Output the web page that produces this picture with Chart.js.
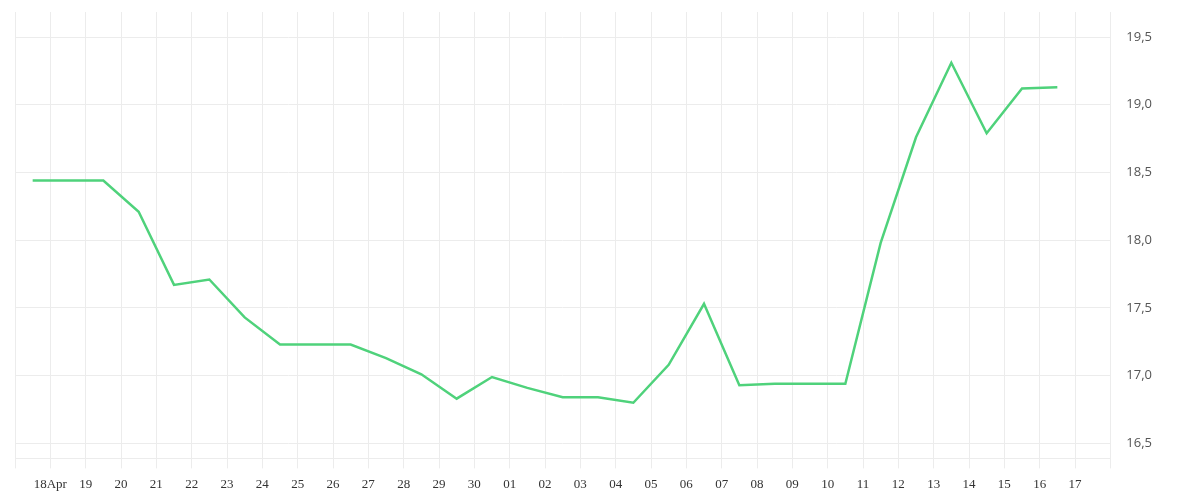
<html>
<head>
    <title>Price</title>
    <style>
        body {
            background-color: #ffffff;
            margin: 0;
            padding: 0;
        }
        .container {
            width: 1200px;
            height: 500px;
        }
    </style>
</head>
<body>
    <div class="container">
        <canvas id="priceChart"></canvas>
    </div>
    <script src="https://cdn.jsdelivr.net/npm/chart.js"></script>
    <script>
        // one value per day, 17 Apr .. 16 May
        const values = [18.44, 18.44, 18.44, 18.21, 17.67, 17.71, 17.43, 17.23, 17.23, 17.23,
                        17.13, 17.01, 16.83, 16.99, 16.91, 16.84, 16.84, 16.80, 17.08, 17.53,
                        16.93, 16.94, 16.94, 16.94, 17.98, 18.76, 19.31, 18.79, 19.12, 19.13];
        // x tick labels, one per day boundary (17 Apr .. 18 May)
        const xLabels = ['', '18Apr', '19', '20', '21', '22', '23', '24', '25', '26', '27', '28', '29', '30',
                         '01', '02', '03', '04', '05', '06', '07', '08', '09', '10', '11', '12', '13', '14',
                         '15', '16', '17', ''];
        const yTicks = [16.5, 17.0, 17.5, 18.0, 18.5, 19.0, 19.5];

        const gridColor = '#ececec';

        const ctx = document.getElementById('priceChart').getContext('2d');
        const priceChart = new Chart(ctx, {
            type: 'line',
            data: {
                datasets: [{
                    data: values.map((v, i) => ({ x: i + 0.5, y: v })),
                    borderColor: '#4fd27b',
                    borderWidth: 2.5,
                    pointRadius: 0,
                    tension: 0,
                    fill: false
                }]
            },
            options: {
                responsive: true,
                maintainAspectRatio: false,
                animation: false,
                layout: {
                    padding: { left: 15, right: 32, top: 12, bottom: 0 }
                },
                scales: {
                    x: {
                        type: 'linear',
                        min: 0,
                        max: xLabels.length - 1,
                        afterBuildTicks: (scale) => {
                            scale.ticks = xLabels.map((l, i) => ({ value: i }));
                        },
                        afterFit: (scale) => {
                            scale.paddingLeft = 0;
                            scale.paddingRight = 0;
                        },
                        ticks: {
                            autoSkip: false,
                            maxRotation: 0,
                            padding: 8,
                            color: '#333333',
                            font: { family: '"Liberation Serif", serif', size: 13 },
                            callback: (v) => xLabels[v]
                        },
                        grid: {
                            color: gridColor,
                            tickLength: 10
                        },
                        border: { color: gridColor }
                    },
                    y: {
                        position: 'right',
                        min: 16.389,
                        max: 19.685,
                        afterBuildTicks: (scale) => {
                            scale.ticks = yTicks.map(v => ({ value: v }));
                        },
                        afterFit: (scale) => {
                            scale.paddingTop = 0;
                            scale.paddingBottom = 0;
                        },
                        ticks: {
                            padding: 16,
                            color: '#555555',
                            font: { family: '"Open Sans", sans-serif', size: 13 },
                            callback: (v) => v.toFixed(1).replace('.', ',')
                        },
                        grid: {
                            color: gridColor,
                            drawTicks: false
                        },
                        border: { color: gridColor }
                    }
                },
                plugins: {
                    legend: { display: false },
                    tooltip: { enabled: false }
                }
            }
        });
    </script>
</body>
</html>
